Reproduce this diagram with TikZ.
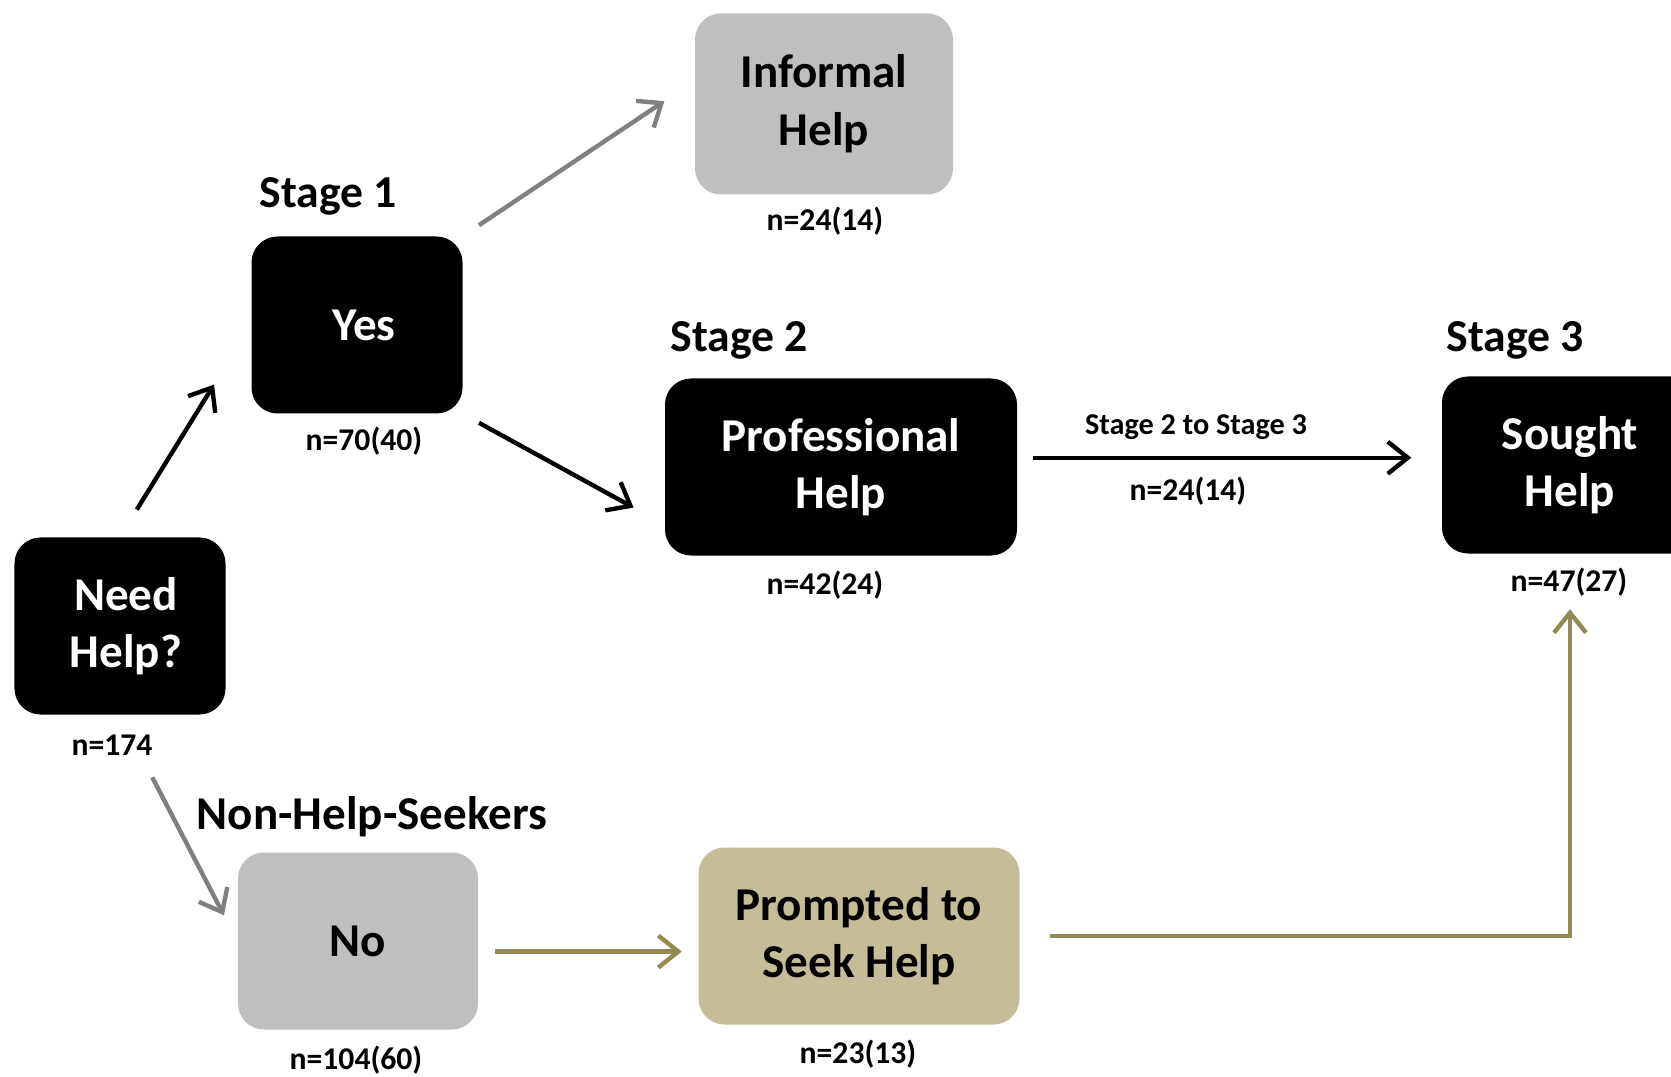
\documentclass[tikz,border=0pt]{standalone}
\usepackage{fontspec}
\setmainfont{Carlito}
\usetikzlibrary{arrows.meta}
\definecolor{boxgrey}{HTML}{BFBFBF}
\definecolor{boxtan}{HTML}{C4BD97}
\definecolor{arrowgrey}{HTML}{808080}
\definecolor{arrowtan}{HTML}{948A54}

\begin{document}
\begin{tikzpicture}[align=center]
	\tikzstyle{box}=[rounded corners=2.6mm, inner sep=0pt, minimum height=1.77cm, font=\bfseries\fontsize{13.4}{16.4}\selectfont]
	\tikzstyle{blackbox}=[box, fill=black, text=white]
	\tikzstyle{greybox}=[box, fill=boxgrey]
	\tikzstyle{tanbox}=[box, fill=boxtan]
	\tikzstyle{stagelabel}=[inner sep=0pt, font=\bfseries\fontsize{13}{15}\selectfont]
	\tikzstyle{countlabel}=[inner sep=0pt, font=\bfseries\fontsize{9}{11}\selectfont]
	\tikzstyle{blackarrow}=[line width=1.25pt, -{Straight Barb[length=2mm,width=3.2mm]}]
	\tikzstyle{greyarrow}=[blackarrow, arrowgrey]
	\tikzstyle{tanarrow}=[blackarrow, arrowtan]
	
	\clip (0,0) rectangle (16.71,10.76);
	
	\node[blackbox, minimum width=2.11cm] (need) at (1.20,4.50) {\hspace{0.12cm}Need\\\hspace{0.12cm}Help?};
	\node[blackbox, minimum width=2.11cm] (yes) at (3.57,7.51) {\hspace{0.14cm}Yes};
	\node[greybox, minimum width=2.58cm, minimum height=1.81cm] (informal) at (8.24,9.72) {Informal\\Help};
	\node[blackbox, minimum width=3.52cm] (prof) at (8.41,6.09) {Professional\\Help};
	\node[blackbox, minimum width=2.56cm] (sought) at (15.70,6.11) {Sought\\Help};
	\node[greybox, minimum width=2.40cm] (no) at (3.58,1.35) {No};
	\node[tanbox, minimum width=3.21cm] (prompted) at (8.59,1.40) {Prompted to\\Seek Help};
	
	\node[stagelabel] (stage1) at (3.28,8.80) {Stage 1};
	\node[stagelabel] (stage2) at (7.39,7.36) {Stage 2};
	\node[stagelabel] (stage3) at (15.15,7.36) {Stage 3};
	\node[stagelabel, font=\bfseries\fontsize{13.4}{15}\selectfont] (nonseekers) at (3.72,2.59) {Non-Help-Seekers};
	
	\node[countlabel] (nneed) at (1.12,3.31) {n=174};
	\node[countlabel] (nyes) at (3.64,6.35) {n=70(40)};
	\node[countlabel] (ninformal) at (8.25,8.55) {n=24(14)};
	\node[countlabel] (nprof) at (8.25,4.91) {n=42(24)};
	\node[countlabel] (nsought) at (15.69,4.94) {n=47(27)};
	\node[countlabel] (nno) at (3.56,0.16) {n=104(60)};
	\node[countlabel] (nprompted) at (8.58,0.22) {n=23(13)};
	\node[countlabel, font=\bfseries\fontsize{8.6}{10}\selectfont] (transition) at (11.96,6.49) {Stage 2 to Stage 3};
	\node[countlabel] (ntransition) at (11.88,5.85) {n=24(14)};
	
	\draw[blackarrow, shorten <=0.32cm, shorten >=0.7cm] (need.north) -- (yes.west);
	\draw[greyarrow, shorten <=0.19cm, shorten >=0.36cm] (yes.north east) -- (informal.170);
	\draw[blackarrow, shorten <=0.18cm, shorten >=0.35cm] (yes.south east) -- (prof.198);
	\draw[blackarrow, shorten <=0.15cm, shorten >=0.3cm] (prof.3) -- (prof.3 -| sought.west);
	\draw[greyarrow, shorten <=0.7cm, shorten >=0.29cm] (need.south) -- (no.west);
	\draw[tanarrow, shorten <=0.16cm, shorten >=0.16cm] (no.-5) -- (no.-5 -| prompted.west);
	\draw[tanarrow, shorten <=0.3cm, shorten >=0.55cm] (prompted.east) -| (sought.south);
\end{tikzpicture}
\end{document}
